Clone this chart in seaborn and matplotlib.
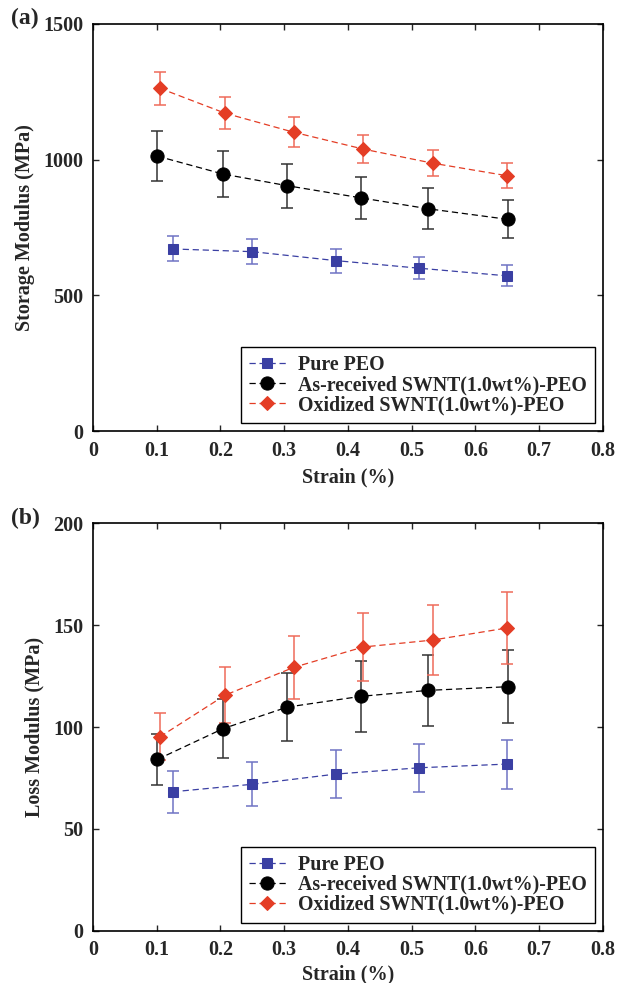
import numpy as np
import pandas as pd
import matplotlib
matplotlib.use("Agg")
import matplotlib.pyplot as plt
import seaborn as sns

# ---- data ----
labels = ["Pure PEO", "As-received SWNT(1.0wt%)-PEO", "Oxidized SWNT(1.0wt%)-PEO"]

strain_pure = [0.125, 0.25, 0.381, 0.512, 0.649]
strain_asr = [0.101, 0.204, 0.305, 0.421, 0.526, 0.651]
strain_oxi = [0.105, 0.2075, 0.315, 0.424, 0.533, 0.649]

storage_pure = [671, 661, 628, 600, 572]
storage_pure_err = [46, 46, 44, 41, 39]
storage_asr = [1013, 947, 904, 859, 819, 780]
storage_asr_err = [93, 86, 81, 77, 75, 70]
storage_oxi = [1263, 1171, 1101, 1039, 987, 941]
storage_oxi_err = [61, 59, 55, 53, 48, 46]

loss_pure = [68.2, 71.9, 76.9, 80.0, 81.8]
loss_pure_err = [10.2, 10.7, 11.6, 11.9, 12.0]
loss_asr = [84.1, 99.2, 109.8, 115.1, 118.0, 119.8]
loss_asr_err = [12.5, 14.6, 16.6, 17.3, 17.6, 17.8]
loss_oxi = [95.2, 115.7, 129.3, 139.3, 142.7, 148.6]
loss_oxi_err = [11.5, 13.7, 15.3, 16.8, 17.0, 17.8]

xticks = [0, 0.1, 0.2, 0.3, 0.4, 0.5, 0.6, 0.7, 0.8]
yticks_a = [0, 500, 1000, 1500]
yticks_b = [0, 50, 100, 150, 200]

# ---- style ----
sns.set_style("ticks")
plt.rcParams["font.family"] = ["Liberation Serif", "DejaVu Serif"]
plt.rcParams["font.weight"] = "bold"
plt.rcParams["axes.labelweight"] = "bold"
plt.rcParams["xtick.direction"] = "in"
plt.rcParams["ytick.direction"] = "in"
plt.rcParams["xtick.top"] = True
plt.rcParams["ytick.right"] = True
plt.rcParams["axes.linewidth"] = 1.2
plt.rcParams["xtick.major.width"] = 1.0
plt.rcParams["ytick.major.width"] = 1.0
plt.rcParams["xtick.major.size"] = 4
plt.rcParams["ytick.major.size"] = 4

blue = "#3a3fa3"
black = "#000000"
red = "#e43d25"
blue_l = "#6f73c4"
black_l = "#333333"
red_l = "#ef6b5a"

fig = plt.figure(figsize=(6.25, 9.83), dpi=100)
ax1 = fig.add_axes([0.1488, 0.5615, 0.816, 0.4141])
ax2 = fig.add_axes([0.1488, 0.0532, 0.816, 0.4144])

def draw(ax, series, yticks, ylim, ylabel, xlabelpad):
    for (x, y, e, lab, c, cl, mk, ms) in series:
        sns.lineplot(x=x, y=y, ax=ax, color=c, marker=mk, markersize=ms,
                     linestyle=(0, (5, 3)), linewidth=0.9, label=lab,
                     markeredgecolor=c, sort=False, errorbar=None)
        ax.errorbar(x, y, yerr=e, fmt="none", ecolor=cl, elinewidth=1.1,
                    capsize=4, capthick=1.1, zorder=1)
    ax.set_xlim(0, 0.8)
    ax.set_ylim(*ylim)
    ax.set_xticks(xticks)
    ax.set_xticklabels([("%g" % t) for t in xticks])
    ax.set_yticks(yticks)
    ax.set_yticklabels([str(t) for t in yticks])
    ax.tick_params(labelsize=14.5, pad=7)
    ax.set_xlabel("Strain (%)", fontsize=14.5, labelpad=xlabelpad)
    ax.set_ylabel(ylabel, fontsize=14.5, labelpad=6)
    for s in ax.spines.values():
        s.set_visible(True)
        s.set_color("black")
    leg = ax.legend(loc="lower right", fontsize=14.3, frameon=True, fancybox=False,
                    edgecolor="black", framealpha=1, handlelength=1.9,
                    borderpad=0.4, labelspacing=0.0, handletextpad=0.6,
                    borderaxespad=0.4)
    leg.get_frame().set_linewidth(1.0)

series_a = [
    (strain_pure, storage_pure, storage_pure_err, labels[0], blue, blue_l, "s", 7.5),
    (strain_asr, storage_asr, storage_asr_err, labels[1], black, black_l, "o", 9.5),
    (strain_oxi, storage_oxi, storage_oxi_err, labels[2], red, red_l, "D", 6.8),
]
series_b = [
    (strain_pure, loss_pure, loss_pure_err, labels[0], blue, blue_l, "s", 7.5),
    (strain_asr, loss_asr, loss_asr_err, labels[1], black, black_l, "o", 9.5),
    (strain_oxi, loss_oxi, loss_oxi_err, labels[2], red, red_l, "D", 6.8),
]

draw(ax1, series_a, yticks_a, (0, 1500), "Storage Modulus (MPa)", 4.5)
draw(ax2, series_b, yticks_b, (0, 200), "Loss Modulus (MPa)", 3)

fig.text(0.018, 0.9817, "(a)", fontsize=17, fontweight="bold", va="center")
fig.text(0.018, 0.4730, "(b)", fontsize=17, fontweight="bold", va="center")

fig.savefig("out.png", dpi=100)
